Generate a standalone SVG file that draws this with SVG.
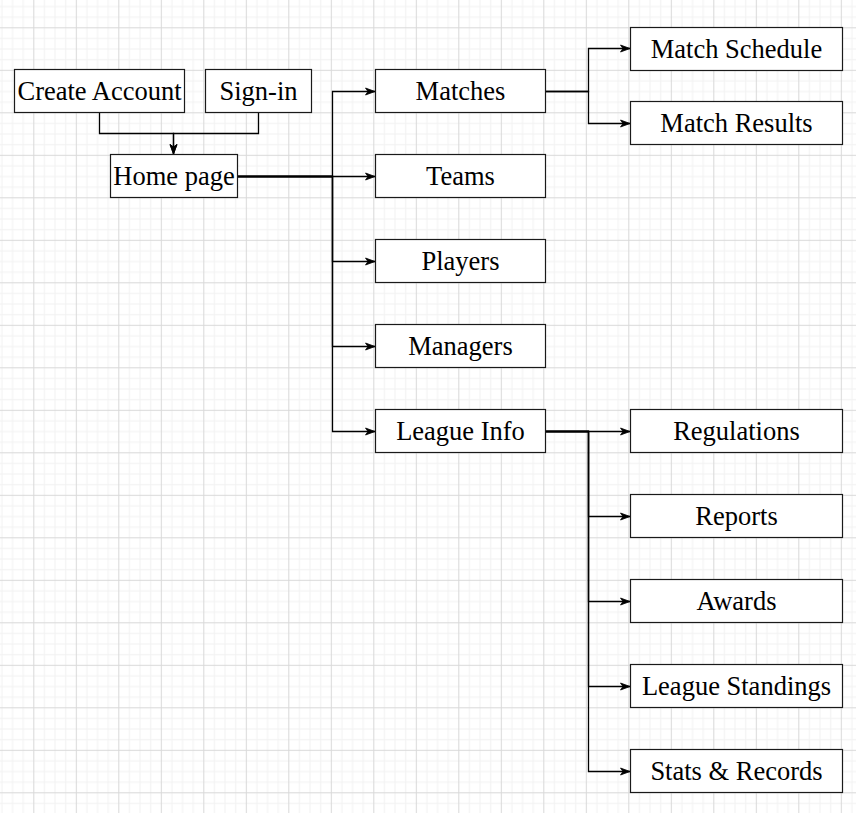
<svg xmlns="http://www.w3.org/2000/svg" width="856" height="813" viewBox="0 0 856 813">
<style>
.box{fill:#fff;stroke:#1a1a1a;stroke-width:1.2}
.lbl{font-family:"Liberation Serif","Times New Roman",serif;font-size:26.5px;fill:#000;text-anchor:middle}
.edge{fill:none;stroke:#000;stroke-width:1.3}
</style>
<defs>
<pattern id="grid" patternUnits="userSpaceOnUse" x="33.3" y="27.3" width="42.5" height="42.5">
<rect x="0" y="0" width="42.5" height="42.5" fill="#fff"/>
<g fill="#f2f2f2">
<rect x="10.625" y="0" width="1" height="42.5"/>
<rect x="21.25" y="0" width="1" height="42.5"/>
<rect x="31.875" y="0" width="1" height="42.5"/>
<rect x="0" y="10.625" width="42.5" height="1"/>
<rect x="0" y="21.25" width="42.5" height="1"/>
<rect x="0" y="31.875" width="42.5" height="1"/>
</g>
<g fill="#d9d9d9">
<rect x="0" y="0" width="1" height="42.5"/>
<rect x="0" y="0" width="42.5" height="1"/>
</g>
</pattern>
<marker id="arr" markerUnits="userSpaceOnUse" markerWidth="11" markerHeight="9" refX="10" refY="4.5" orient="auto">
<path d="M0.5,1 L10,4.5 L0.5,8 L3,4.5 Z" fill="#000" stroke="#000" stroke-width="0.8" stroke-linejoin="miter"/>
</marker>
</defs>
<rect x="0" y="0" width="856" height="813" fill="url(#grid)"/>

<g id="connectors">
<path class="edge" d="M99.5,112.5 V133.5 H173.5 V154" marker-end="url(#arr)"/>
<path class="edge" d="M258.5,112.5 V133.5 H173.5 V154" marker-end="url(#arr)"/>
<path class="edge" d="M237.5,176.5 H332.5 V91.5 H375" marker-end="url(#arr)"/>
<path class="edge" d="M237.5,176.5 H375" marker-end="url(#arr)"/>
<path class="edge" d="M237.5,176.5 H332.5 V261.5 H375" marker-end="url(#arr)"/>
<path class="edge" d="M237.5,176.5 H332.5 V346.5 H375" marker-end="url(#arr)"/>
<path class="edge" d="M237.5,176.5 H332.5 V431.5 H375" marker-end="url(#arr)"/>
<path class="edge" d="M545.5,91.5 H588.5 V48.5 H630" marker-end="url(#arr)"/>
<path class="edge" d="M545.5,91.5 H588.5 V123.5 H630" marker-end="url(#arr)"/>
<path class="edge" d="M545.5,431.5 H630" marker-end="url(#arr)"/>
<path class="edge" d="M545.5,431.5 H588.5 V516.5 H630" marker-end="url(#arr)"/>
<path class="edge" d="M545.5,431.5 H588.5 V601.5 H630" marker-end="url(#arr)"/>
<path class="edge" d="M545.5,431.5 H588.5 V686.5 H630" marker-end="url(#arr)"/>
<path class="edge" d="M545.5,431.5 H588.5 V771.5 H630" marker-end="url(#arr)"/>
</g>

<g id="create-account"><rect class="box" x="14.5" y="69.5" width="170" height="43"/><text class="lbl" x="99.5" y="100">Create Account</text></g>
<g id="sign-in"><rect class="box" x="205.5" y="69.5" width="106" height="43"/><text class="lbl" x="258.5" y="100">Sign-in</text></g>
<g id="home-page"><rect class="box" x="110.5" y="154.5" width="127" height="43"/><text class="lbl" x="174" y="185">Home page</text></g>

<g id="matches"><rect class="box" x="375.5" y="69.5" width="170" height="43"/><text class="lbl" x="460.5" y="100">Matches</text></g>
<g id="teams"><rect class="box" x="375.5" y="154.5" width="170" height="43"/><text class="lbl" x="460.5" y="185">Teams</text></g>
<g id="players"><rect class="box" x="375.5" y="239.5" width="170" height="43"/><text class="lbl" x="460.5" y="270">Players</text></g>
<g id="managers"><rect class="box" x="375.5" y="324.5" width="170" height="43"/><text class="lbl" x="460.5" y="355">Managers</text></g>
<g id="league-info"><rect class="box" x="375.5" y="409.5" width="170" height="43"/><text class="lbl" x="460.5" y="440">League Info</text></g>

<g id="match-schedule"><rect class="box" x="630.5" y="27.5" width="212" height="43"/><text class="lbl" x="736.5" y="57.5">Match Schedule</text></g>
<g id="match-results"><rect class="box" x="630.5" y="101.5" width="212" height="43"/><text class="lbl" x="736.5" y="132">Match Results</text></g>
<g id="regulations"><rect class="box" x="630.5" y="409.5" width="212" height="43"/><text class="lbl" x="736.5" y="440">Regulations</text></g>
<g id="reports"><rect class="box" x="630.5" y="494.5" width="212" height="43"/><text class="lbl" x="736.5" y="525">Reports</text></g>
<g id="awards"><rect class="box" x="630.5" y="579.5" width="212" height="43"/><text class="lbl" x="736.5" y="610">Awards</text></g>
<g id="league-standings"><rect class="box" x="630.5" y="664.5" width="212" height="43"/><text class="lbl" x="736.5" y="695">League Standings</text></g>
<g id="stats-records"><rect class="box" x="630.5" y="749.5" width="212" height="43"/><text class="lbl" x="736.5" y="780">Stats &amp; Records</text></g>
</svg>
